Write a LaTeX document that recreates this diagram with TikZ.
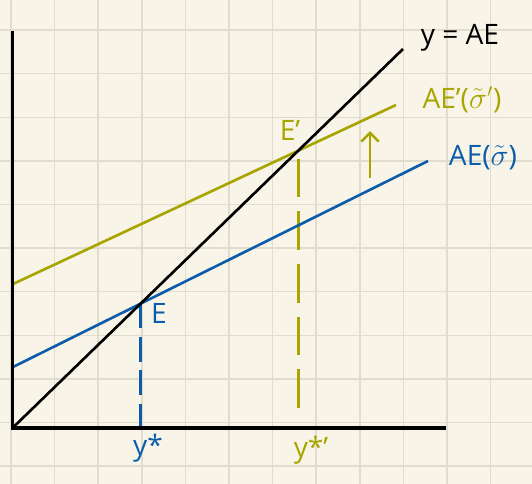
\documentclass[tikz,border=0pt]{standalone}
\usepackage{fontspec}
\setmainfont{Open Sans}
\usetikzlibrary{arrows.meta}
\definecolor{papier}{RGB}{248,245,232}
\definecolor{grille}{RGB}{224,221,207}
\definecolor{kaki}{RGB}{168,164,0}
\definecolor{bleu}{RGB}{12,92,170}
\begin{document}
\begin{tikzpicture}[x=0.02cm,y=-0.02cm]
			% Styles
			\tikzstyle{axe}=[line width=1.8pt,black]
			\tikzstyle{droite}=[line width=1.5pt]
			\tikzstyle{pointilles}=[line width=1.5pt,dash pattern=on 22pt off 8pt]
			\tikzstyle{etiquette}=[font=\fontsize{16}{16}\selectfont,inner sep=0pt]
			% Dimensions
			\def\Pas{43.6}
			% Fond et grille
			\fill[papier] (0,0) rectangle (532,484);
			\useasboundingbox (0,0) rectangle (532,484);
			\foreach \i in {0,...,11} \draw[grille,line width=0.8pt] ({11+\Pas*\i},0) -- ({11+\Pas*\i},484);
			\foreach \j in {0,...,10} \draw[grille,line width=0.8pt] (0,{30+\Pas*\j}) -- (532,{30+\Pas*\j});
			% Points
			\coordinate (O) at (12.5,428);
			\coordinate (Yhaut) at (12.5,31);
			\coordinate (Xfin) at (446,428);
			\coordinate (AEfin) at (403,49);
			\coordinate (Bdebut) at (13,367);
			\coordinate (Bfin) at (428,161);
			\coordinate (Kdebut) at (13,284);
			\coordinate (Kfin) at (396,105);
			\coordinate (E) at (intersection of O--AEfin and Bdebut--Bfin);
			\coordinate (Ep) at (intersection of O--AEfin and Kdebut--Kfin);
			\coordinate (Ys) at (E |- O);
			\coordinate (Ysp) at (Ep |- O);
			\coordinate (Fbas) at (370,178);
			\coordinate (Fhaut) at (370,131);
			% Noeuds
			\node[etiquette] (lAE) at (460,38) {y = AE};
			\node[etiquette,kaki] (lAEp) at (462,100) {AE'($\tilde{\sigma}'$)};
			\node[etiquette,bleu] (lAEb) at (483,158) {AE($\tilde{\sigma}$)};
			\node[etiquette,kaki] (lEp) at (290,130) {E'};
			\node[etiquette,bleu] (lE) at (159,313) {E};
			\node[etiquette,bleu] (lYs) at (148,448) {y*};
			\node[etiquette,kaki] (lYsp) at (311,450) {y*'};
			% Arcs
			\draw[pointilles,bleu,dash pattern=on 14pt off 5pt] (E) -- (Ys);
			\draw[pointilles,kaki] ([yshift=-4.5pt]Ep) -- ([yshift=10pt]Ysp);
			\draw[droite,bleu] (Bdebut) -- (Bfin);
			\draw[droite,kaki] (Kdebut) -- (Kfin);
			\draw[droite,black] (O) -- (AEfin);
			\draw[droite,kaki,-{Straight Barb[length=5pt,width=10pt]}] (Fbas) -- (Fhaut);
			\draw[axe] (Yhaut) -- (O) -- (Xfin);
		\end{tikzpicture}
\end{document}
